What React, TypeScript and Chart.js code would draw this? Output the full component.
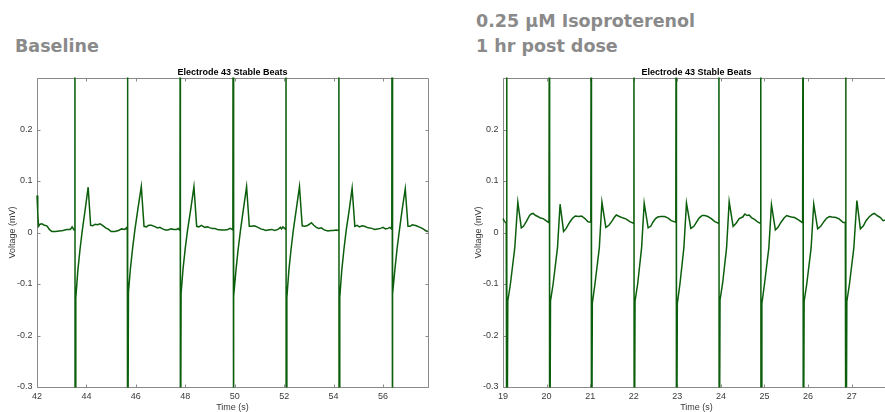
import React, { useEffect, useRef } from 'react';
import { Chart, registerables } from 'chart.js';

Chart.register(...registerables);

// ---- Data (time in s, voltage in mV) ----
const baselineTrace: [number, number][] = [
  [42.00, 0.072], [42.03, 0.040], [42.06, 0.012], [42.12, 0.016], [42.20, 0.017], [42.30, 0.014], [42.40, 0.013],
  [42.50, 0.006], [42.60, 0.002], [42.75, 0.002], [42.90, 0.003], [43.05, 0.004], [43.20, 0.006], [43.35, 0.006],
  [43.42, 0.011], [43.50, 0.005],
  [43.534, 0.6], [43.542, -0.6], [43.57, -0.127], [43.65, -0.075], [43.74, -0.033], [43.83, 0.003], [43.95, 0.045],
  [44.07, 0.088], [44.17, 0.014], [44.25, 0.013], [44.35, 0.016], [44.45, 0.015], [44.55, 0.017], [44.65, 0.014],
  [44.78, 0.009], [44.90, 0.006], [45.00, 0.002], [45.15, 0.002], [45.30, 0.004], [45.42, 0.007], [45.55, 0.006],
  [45.62, 0.009], [45.655, 0.005],
  [45.664, 0.6], [45.672, -0.6], [45.70, -0.116], [45.78, -0.070], [45.87, -0.030], [45.96, 0.005], [46.08, 0.045],
  [46.22, 0.089], [46.33, 0.012], [46.42, 0.011], [46.52, 0.014], [46.63, 0.014], [46.75, 0.012], [46.88, 0.009],
  [46.97, 0.010], [47.08, 0.007], [47.20, 0.005], [47.30, 0.005], [47.42, 0.007], [47.55, 0.006], [47.65, 0.006],
  [47.71, 0.008], [47.785, 0.004],
  [47.794, 0.6], [47.802, -0.6], [47.83, -0.118], [47.91, -0.070], [48.00, -0.030], [48.09, 0.004], [48.22, 0.045],
  [48.35, 0.089], [48.46, 0.012], [48.55, 0.011], [48.65, 0.014], [48.79, 0.010], [48.90, 0.011], [49.00, 0.009],
  [49.10, 0.008], [49.19, 0.008], [49.30, 0.006], [49.45, 0.005], [49.60, 0.005], [49.72, 0.006], [49.82, 0.008],
  [49.925, 0.005],
  [49.934, 0.6], [49.942, -0.6], [49.97, -0.124], [50.05, -0.073], [50.14, -0.032], [50.23, 0.003], [50.35, 0.045],
  [50.48, 0.089], [50.59, 0.012], [50.68, 0.012], [50.80, 0.013], [50.94, 0.010], [51.05, 0.007], [51.15, 0.006],
  [51.25, 0.004], [51.35, 0.005], [51.50, 0.006], [51.62, 0.004], [51.75, 0.006], [51.85, 0.010], [51.89, 0.007],
  [51.95, 0.011], [52.065, 0.006],
  [52.074, 0.6], [52.082, -0.6], [52.11, -0.126], [52.19, -0.074], [52.28, -0.032], [52.37, 0.004], [52.49, 0.045],
  [52.62, 0.089], [52.73, 0.013], [52.82, 0.012], [52.92, 0.013], [53.02, 0.016], [53.10, 0.019], [53.20, 0.014],
  [53.30, 0.010], [53.40, 0.008], [53.50, 0.009], [53.62, 0.005], [53.77, 0.003], [53.90, 0.004], [54.00, 0.004],
  [54.10, 0.005], [54.205, 0.004],
  [54.214, 0.6], [54.222, -0.6], [54.25, -0.126], [54.33, -0.074], [54.42, -0.032], [54.51, 0.004], [54.63, 0.043],
  [54.75, 0.086], [54.86, 0.012], [54.95, 0.014], [55.05, 0.011], [55.15, 0.013], [55.25, 0.012], [55.40, 0.009],
  [55.55, 0.008], [55.66, 0.006], [55.78, 0.007], [55.90, 0.008], [56.00, 0.010], [56.10, 0.007], [56.20, 0.008],
  [56.28, 0.010], [56.355, 0.006],
  [56.364, 0.6], [56.372, -0.6], [56.40, -0.120], [56.48, -0.072], [56.57, -0.031], [56.66, 0.003], [56.77, 0.043],
  [56.90, 0.085], [57.01, 0.012], [57.10, 0.012], [57.18, 0.015], [57.27, 0.014], [57.35, 0.013], [57.45, 0.011],
  [57.55, 0.009], [57.65, 0.006], [57.75, 0.003], [57.82, 0.002],
];

const isoTrace: [number, number][] = [
  [19.00, 0.027], [19.03, 0.022], [19.075, 0.018],
  [19.084, 0.6], [19.09, -0.6], [19.11, -0.133], [19.17, -0.100], [19.27, -0.030], [19.34, 0.059], [19.42, 0.009],
  [19.47, 0.012], [19.54, 0.022], [19.61, 0.033], [19.65, 0.036], [19.69, 0.037], [19.75, 0.033], [19.80, 0.031],
  [19.86, 0.028], [19.92, 0.027], [19.97, 0.024], [20.055, 0.019],
  [20.064, 0.6], [20.07, -0.6], [20.09, -0.133], [20.15, -0.100], [20.25, -0.030], [20.31, 0.055], [20.39, 0.002],
  [20.45, 0.008], [20.53, 0.020], [20.60, 0.028], [20.66, 0.032], [20.74, 0.031], [20.80, 0.032], [20.88, 0.027],
  [20.95, 0.021], [21.015, 0.020],
  [21.024, 0.6], [21.03, -0.6], [21.05, -0.137], [21.11, -0.100], [21.21, -0.030], [21.27, 0.059], [21.36, 0.010],
  [21.43, 0.014], [21.50, 0.022], [21.56, 0.030], [21.60, 0.034], [21.67, 0.031], [21.76, 0.028], [21.83, 0.026],
  [21.91, 0.021], [21.995, 0.018],
  [22.004, 0.6], [22.01, -0.6], [22.03, -0.133], [22.09, -0.100], [22.18, -0.030], [22.24, 0.057], [22.33, 0.009],
  [22.39, 0.012], [22.44, 0.020], [22.50, 0.027], [22.55, 0.030], [22.62, 0.031], [22.71, 0.031], [22.79, 0.028],
  [22.86, 0.023], [22.965, 0.020],
  [22.974, 0.6], [22.98, -0.6], [23.00, -0.138], [23.06, -0.100], [23.15, -0.030], [23.21, 0.057], [23.31, 0.008],
  [23.38, 0.012], [23.44, 0.020], [23.50, 0.028], [23.57, 0.033], [23.63, 0.033], [23.70, 0.031], [23.78, 0.027],
  [23.86, 0.021], [23.945, 0.018],
  [23.954, 0.6], [23.96, -0.6], [23.98, -0.131], [24.04, -0.098], [24.13, -0.030], [24.19, 0.060], [24.28, 0.012],
  [24.35, 0.018], [24.42, 0.027], [24.50, 0.030], [24.55, 0.036], [24.60, 0.033], [24.65, 0.034], [24.70, 0.029],
  [24.78, 0.025], [24.85, 0.020], [24.905, 0.018],
  [24.914, 0.6], [24.92, -0.6], [24.94, -0.138], [25.00, -0.100], [25.10, -0.030], [25.16, 0.054], [25.25, 0.005],
  [25.31, 0.010], [25.38, 0.020], [25.45, 0.028], [25.51, 0.033], [25.57, 0.031], [25.62, 0.030], [25.69, 0.029],
  [25.77, 0.025], [25.875, 0.019],
  [25.884, 0.6], [25.89, -0.6], [25.91, -0.134], [25.97, -0.100], [26.07, -0.030], [26.13, 0.055], [26.22, 0.007],
  [26.29, 0.012], [26.37, 0.022], [26.43, 0.028], [26.49, 0.031], [26.55, 0.030], [26.64, 0.029], [26.72, 0.026],
  [26.80, 0.020], [26.855, 0.019],
  [26.864, 0.6], [26.87, -0.6], [26.89, -0.134], [26.95, -0.100], [27.05, -0.030], [27.12, 0.062], [27.20, 0.007],
  [27.27, 0.013], [27.33, 0.023], [27.40, 0.030], [27.47, 0.035], [27.52, 0.037], [27.60, 0.032], [27.66, 0.029],
  [27.72, 0.023], [27.80, 0.025], [27.88, 0.026],
];

const baselineXTicks = [42, 44, 46, 48, 50, 52, 54, 56];
const isoXTicks = [19, 20, 21, 22, 23, 24, 25, 26, 27];
const yTicks = [-0.3, -0.2, -0.1, 0, 0.1, 0.2];

const FONT = "'Liberation Sans', Arial, sans-serif";
const TEXT = '#3a3a3a';
const LINE = '#0b5e0b';

const boxPlugin = {
  id: 'matlabBox',
  beforeDatasetsDraw(chart: any) {
    const { ctx, chartArea: a, scales } = chart;
    const L = Math.round(a.left) + 0.5;
    const R = Math.round(a.right) + 0.5;
    const T = Math.round(a.top) + 0.5;
    const B = Math.round(a.bottom) + 0.5;
    const tl = 3;
    ctx.save();
    ctx.strokeStyle = '#8a8a8a';
    ctx.lineWidth = 1;
    ctx.beginPath();
    ctx.moveTo(L, T); ctx.lineTo(R, T); ctx.lineTo(R, B); ctx.lineTo(L, B); ctx.closePath();
    scales.x.ticks.forEach((t: any) => {
      const px = Math.round(scales.x.getPixelForValue(t.value)) + 0.5;
      ctx.moveTo(px, B); ctx.lineTo(px, B - tl);
      ctx.moveTo(px, T); ctx.lineTo(px, T + tl);
    });
    scales.y.ticks.forEach((t: any) => {
      const py = Math.round(scales.y.getPixelForValue(t.value)) + 0.5;
      ctx.moveTo(L, py); ctx.lineTo(L + tl, py);
      ctx.moveTo(R, py); ctx.lineTo(R - tl, py);
    });
    ctx.stroke();
    ctx.restore();
  },
};

type PlotProps = {
  trace: [number, number][];
  xTicks: number[];
  xMin: number;
  xMax: number;
  left: number;
  width: number;
  padLeft: number;
  padRight: number;
};

function Plot({ trace, xTicks, xMin, xMax, left, width, padLeft, padRight }: PlotProps) {
  const ref = useRef<HTMLCanvasElement | null>(null);
  useEffect(() => {
    if (!ref.current) return;
    const font = { family: FONT, size: 9 };
    const chart = new Chart(ref.current, {
      type: 'line',
      data: {
        datasets: [
          {
            data: trace.map(([x, y]) => ({ x, y })),
            borderColor: LINE,
            borderWidth: 1.5,
            pointRadius: 0,
            tension: 0,
            fill: false,
            clip: { left: 2, top: 0.5, right: 0.5, bottom: 0.5 },
          },
        ],
      },
      options: {
        responsive: false,
        animation: false,
        devicePixelRatio: 1,
        events: [],
        layout: { padding: { top: 67.2, left: padLeft, right: padRight, bottom: 0 } },
        plugins: {
          legend: { display: false },
          tooltip: { enabled: false },
          title: {
            display: true,
            fullSize: false,
            text: 'Electrode 43 Stable Beats',
            font: { family: FONT, size: 9, weight: 'bold' },
            color: '#000',
            padding: 0,
          },
        },
        scales: {
          x: {
            type: 'linear',
            min: xMin,
            max: xMax,
            grid: { display: false, drawTicks: false },
            border: { display: false },
            afterBuildTicks: (s: any) => {
              s.ticks = xTicks.map((v) => ({ value: v }));
            },
            afterFit: (s: any) => {
              s.height = 33;
            },
            ticks: {
              padding: 4.3,
              font,
              color: TEXT,
              maxRotation: 0,
              autoSkip: false,
              callback: (v: any) => String(v),
            },
            title: { display: true, text: 'Time (s)', font, color: TEXT, padding: { top: 0, bottom: 7.1 } },
          },
          y: {
            type: 'linear',
            min: -0.3,
            max: 0.3,
            grid: { display: false, drawTicks: false },
            border: { display: false },
            afterBuildTicks: (s: any) => {
              s.ticks = yTicks.map((v) => ({ value: v }));
            },
            afterFit: (s: any) => {
              s.width = 37;
            },
            ticks: {
              padding: 4.5,
              font,
              color: TEXT,
              callback: (v: any) => String(Number(Number(v).toFixed(1))),
            },
            title: { display: true, text: 'Voltage (mV)', font, color: TEXT, padding: { top: 6.9, bottom: 0 } },
          },
        },
      } as any,
      plugins: [boxPlugin],
    });
    return () => chart.destroy();
  }, []);
  return (
    <canvas
      ref={ref}
      width={width}
      height={420}
      style={{ position: 'absolute', left, top: 0, width, height: 420 }}
    />
  );
}

const bigTitle: React.CSSProperties = {
  position: 'absolute',
  fontFamily: "'DejaVu Sans', Verdana, sans-serif",
  fontWeight: 'bold',
  fontSize: 17.5,
  lineHeight: '25px',
  color: '#8a8a8a',
  whiteSpace: 'nowrap',
  margin: 0,
};

export default function App() {
  return (
    <div
      style={{
        position: 'absolute',
        left: 0,
        top: 0,
        width: 885,
        height: 412,
        overflow: 'hidden',
        background: '#fff',
      }}
    >
      <div style={{ ...bigTitle, left: 15, top: 33.5 }}>Baseline</div>
      <div style={{ ...bigTitle, left: 476, top: 8.5 }}>
        0.25 µM Isoproterenol
        <br />1 hr post dose
      </div>
      <Plot
        trace={baselineTrace}
        xTicks={baselineXTicks}
        xMin={42}
        xMax={57.82}
        left={0}
        width={440}
        padLeft={0}
        padRight={12}
      />
      <Plot
        trace={isoTrace}
        xTicks={isoXTicks}
        xMin={19}
        xMax={27.88}
        left={440}
        width={460}
        padLeft={26}
        padRight={10}
      />
    </div>
  );
}
